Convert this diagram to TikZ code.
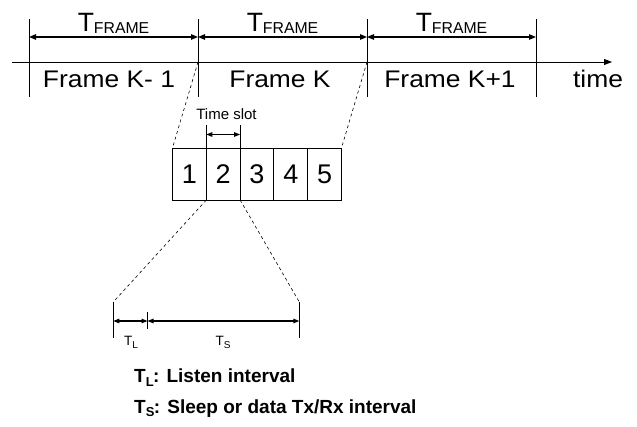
\documentclass[tikz,border=0pt]{standalone}
\usepackage{fontspec}
\setmainfont{Liberation Sans}
\newfontfamily\arw[FakeStretch=1.1]{Liberation Sans}
\usetikzlibrary{arrows.meta}
\tikzset{
  x=1pt, y=-1pt,
  tick/.style={line width=0.9pt, black},
  dim/.style={line width=1.1pt, {Triangle[length=7pt,width=5.5pt]}-{Triangle[length=7pt,width=5.5pt]}},
  sdim/.style={line width=1.1pt, {Triangle[length=6pt,width=4.5pt]}-{Triangle[length=6pt,width=4.5pt]}},
  guide/.style={line width=0.6pt, dash pattern=on 3pt off 3pt},
  slotbox/.style={draw, line width=0.9pt, minimum width=33.8pt, minimum height=52pt, inner sep=0pt, outer sep=0pt, font=\fontsize{27}{28}\selectfont, anchor=north west},
  framelbl/.style={font=\arw\fontsize{24}{26}\selectfont, inner sep=0pt, anchor=base},
  tlbl/.style={font=\fontsize{26.5}{28}\selectfont, inner sep=0pt, anchor=base},
  smalllbl/.style={font=\fontsize{13.5}{15}\selectfont, inner sep=0pt, anchor=base},
  legend/.style={font=\bfseries\fontsize{19}{21}\selectfont, inner sep=0pt, anchor=base west},
}
\newcommand{\tframe}{T\raisebox{-2pt}{\fontsize{15.8}{16}\selectfont FRAME}}
\begin{document}
\begin{tikzpicture}
\useasboundingbox (0,0) rectangle (637,427);
% frame ticks
\foreach \n/\xx in {a/29, b/198, c/367, d/536} {
  \coordinate (\n-top) at (\xx,19);
  \coordinate (\n-bot) at (\xx,97);
  \coordinate (\n-ax) at (\xx,62);
  \coordinate (\n-ar) at (\xx,37);
  \draw[tick] (\n-top) -- (\n-bot);
}
% time axis
\coordinate (axs) at (12,62);
\coordinate (axe) at (612,62);
\draw[line width=0.9pt, -{Triangle[length=8pt,width=6pt]}] (axs) -- (axe);
% T_FRAME arrows
\draw[dim] (a-ar) -- (b-ar);
\draw[dim] (b-ar) -- (c-ar);
\draw[dim] (c-ar) -- (d-ar);
\node[tlbl] (tf1) at (113.5,32) {\tframe};
\node[tlbl] (tf2) at (282.5,32) {\tframe};
\node[tlbl] (tf3) at (451.5,32) {\tframe};
% frame labels
\node[framelbl] (f1) at (109,88) {Frame K- 1};
\node[framelbl] (f2) at (280,88) {Frame K};
\node[framelbl] (f3) at (450,88) {Frame K+1};
\node[framelbl] (tm) at (598,88) {time};
% slots
\node[slotbox] (s1) at (172.5,148) {1};
\node[slotbox] (s2) at (s1.north east) {2};
\node[slotbox] (s3) at (s2.north east) {3};
\node[slotbox] (s4) at (s3.north east) {4};
\node[slotbox] (s5) at (s4.north east) {5};
% zoom guides from frame K
\draw[guide] (b-ax) -- (s1.north west);
\draw[guide] (c-ax) -- (s5.north east);
% time slot dimension
\path (s2.north west) ++(0,-23) coordinate (tsa);
\path (s2.north east) ++(0,-23) coordinate (tsb);
\draw[tick] (s2.north west) -- (tsa);
\draw[tick] (s2.north east) -- (tsb);
\path (s2.north west) ++(0,-13.5) coordinate (tsla);
\path (s2.north east) ++(0,-13.5) coordinate (tslb);
\draw[sdim] (tsla) -- (tslb);
\node[font=\fontsize{15}{16}\selectfont, inner sep=0pt, anchor=base] (tsl) at (226.5,120) {Time slot};
% lower guides
\coordinate (la) at (113.3,302);
\coordinate (lb) at (147.5,312);
\coordinate (lc) at (299.3,302);
\coordinate (la2) at (113.3,338);
\coordinate (lb2) at (147.5,329);
\coordinate (lc2) at (299.3,338);
\draw[guide] (s2.south west) -- (la);
\draw[guide] (s2.south east) -- (lc);
\draw[tick] (la) -- (la2);
\draw[tick] (lb) -- (lb2);
\draw[tick] (lc) -- (lc2);
\coordinate (da) at (113.3,321);
\coordinate (db) at (147.5,321);
\coordinate (dc) at (299.3,321);
\draw[sdim] (da) -- (db);
\draw[sdim] (db) -- (dc);
\node[smalllbl] (tl) at (131,346) {T\raisebox{-2pt}{\fontsize{10}{11}\selectfont L}};
\node[smalllbl] (tsx) at (223,346) {T\raisebox{-2pt}{\fontsize{10}{11}\selectfont S}};
% legend
\node[legend] (lg1) at (134,383) {T\raisebox{-3.5pt}{\fontsize{13}{14}\selectfont L}\kern-0.5pt: Listen interval};
\node[legend] (lg2) at (134,413) {T\raisebox{-3.5pt}{\fontsize{13}{14}\selectfont S}\kern-0.5pt: Sleep or data Tx/Rx interval};
\end{tikzpicture}
\end{document}
